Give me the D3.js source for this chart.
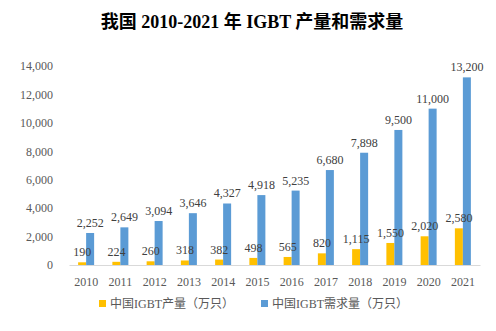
<!DOCTYPE html>
<html>
<head>
<meta charset="utf-8">
<script src="https://cdn.jsdelivr.net/npm/d3@7"></script>
<style>
    body { margin: 0; background: #fff; }
    svg text { font-family: "Liberation Serif", "Times New Roman", "Noto Sans CJK SC", serif; }
</style>
</head>
<body>
<div id="chart-area"></div>
<script>
// Years on the X axis
const years = ['2010', '2011', '2012', '2013', '2014', '2015', '2016', '2017', '2018', '2019', '2020', '2021'];
// IGBT output, 10k units
const production = [190, 224, 260, 318, 382, 498, 565, 820, 1115, 1550, 2020, 2580];
// IGBT demand, 10k units
const demand = [2252, 2649, 3094, 3646, 4327, 4918, 5235, 6680, 7898, 9500, 11000, 13200];
const yTicks = [0, 2000, 4000, 6000, 8000, 10000, 12000, 14000];
const seriesNames = ['中国IGBT产量（万只）', '中国IGBT需求量（万只）'];
const colors = ['#FFC000', '#5B9BD5'];

const WIDTH = 496;
const HEIGHT = 331;
const MARGIN = {LEFT: 69, RIGHT: 16, TOP: 66, BOTTOM: 66};

const svg = d3.select('#chart-area').append('svg')
    .attr('width', WIDTH)
    .attr('height', HEIGHT);

// Title
svg.append('text')
    .attr('x', 252)
    .attr('y', 28)
    .attr('text-anchor', 'middle')
    .attr('font-size', '18px')
    .attr('font-weight', 'bold')
    .attr('fill', '#000')
    .text('我国 2010-2021 年 IGBT 产量和需求量');

const xScale = d3.scaleBand()
    .domain(years)
    .range([MARGIN.LEFT, WIDTH - MARGIN.RIGHT]);

const yScale = d3.scaleLinear()
    .domain([0, 14000])
    .range([HEIGHT - MARGIN.BOTTOM, MARGIN.TOP]);

// Two bars side by side, 8px each, centred in the band
const bw = xScale.bandwidth();
const xSub = d3.scaleBand()
    .domain([0, 1])
    .range([bw / 2 - 8, bw / 2 + 8]);

// Y axis labels only, no line or ticks
const yAxis = svg.append('g')
    .attr('transform', `translate(${MARGIN.LEFT - 13},0)`)
    .call(d3.axisLeft(yScale).tickValues(yTicks).tickFormat(d3.format(',')).tickSize(0));
yAxis.select('.domain').remove();
yAxis.selectAll('text')
    .attr('font-size', '12px')
    .attr('fill', '#595959');

// X axis
const xAxis = svg.append('g')
    .attr('transform', `translate(0,${HEIGHT - MARGIN.BOTTOM})`)
    .call(d3.axisBottom(xScale).tickSize(0).tickPadding(12));
xAxis.select('.domain').attr('stroke', '#D9D9D9');
xAxis.selectAll('text')
    .attr('font-size', '12px')
    .attr('fill', '#595959');

const series = [production, demand];
const fmt = d3.format(',');
const rowsFor = (values, s) => years.map((y, i) => ({year: y, value: values[i], s: s}));

// Bars first, so every value label sits on top of them
const barLayer = svg.append('g');
const labelLayer = svg.append('g');

series.forEach((values, s) => {
    const rows = rowsFor(values, s);

    barLayer.append('g')
        .selectAll('rect')
        .data(rows)
        .enter()
        .append('rect')
        .attr('x', d => xScale(d.year) + xSub(s))
        .attr('y', d => yScale(d.value))
        .attr('width', xSub.bandwidth())
        .attr('height', d => yScale(0) - yScale(d.value))
        .attr('fill', colors[s]);

    labelLayer.append('g')
        .selectAll('text')
        .data(rows)
        .enter()
        .append('text')
        .attr('x', d => xScale(d.year) + xSub(s) + xSub.bandwidth() / 2)
        .attr('y', d => yScale(d.value) - 6)
        .attr('text-anchor', 'middle')
        .attr('font-size', '12px')
        .attr('fill', '#404040')
        .text(d => fmt(d.value));
});

// Legend
const legendX = [99, 261];
const legend = svg.selectAll('.legend')
    .data(seriesNames)
    .enter()
    .append('g')
    .attr('class', 'legend')
    .attr('transform', (d, i) => `translate(${legendX[i]},304)`);

legend.append('rect')
    .attr('x', 0)
    .attr('y', -4)
    .attr('width', 7)
    .attr('height', 7)
    .attr('fill', (d, i) => colors[i]);

legend.append('text')
    .attr('x', 11)
    .attr('y', 4)
    .attr('font-size', '12px')
    .attr('fill', '#595959')
    .text(d => d);
</script>
</body>
</html>
